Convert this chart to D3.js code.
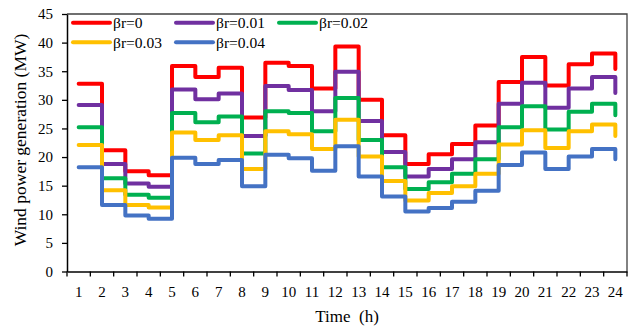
<!DOCTYPE html>
<html>
<head>
<meta charset="utf-8">
<script src="https://cdn.jsdelivr.net/npm/d3@7"></script>
<style>
  body { margin: 0; background: #fff; }
  svg text { font-family: "Liberation Serif", "Times New Roman", serif; fill: #000; }
</style>
</head>
<body>
<svg id="chart" width="640" height="328"></svg>
<script>
// hours on the x axis
var hours = d3.range(1, 25);
var yTicks = [0, 5, 10, 15, 20, 25, 30, 35, 40, 45];

// wind power (MW) per hour
var br0    = [32.8, 21.2, 17.5, 16.8, 35.9, 34.0, 35.6, 26.9, 36.5, 35.9, 32.0, 39.3, 30.0, 23.8, 18.8, 20.5, 22.3, 25.5, 33.1, 37.5, 32.5, 36.2, 38.1, 35.4];
var br001  = [29.1, 18.8, 15.4, 14.8, 31.8, 30.1, 31.1, 23.7, 32.4, 31.7, 28.0, 34.9, 26.3, 20.9, 16.6, 17.9, 19.6, 22.6, 29.3, 33.0, 28.6, 32.0, 34.0, 31.2];
var br002  = [25.2, 16.3, 13.4, 12.9, 27.7, 26.1, 27.1, 20.6, 28.0, 27.7, 24.5, 30.3, 23.0, 18.2, 14.4, 15.6, 17.1, 19.6, 25.2, 28.9, 24.8, 27.9, 29.3, 27.3];
var br003  = [22.1, 14.2, 11.6, 11.2, 24.3, 23.0, 23.8, 17.9, 24.5, 24.0, 21.4, 26.5, 20.1, 15.8, 12.4, 13.7, 14.9, 17.1, 22.2, 24.7, 21.6, 24.5, 25.7, 23.7];
var br004  = [18.2, 11.6, 9.8, 9.2, 19.9, 18.8, 19.5, 14.9, 20.4, 19.8, 17.6, 21.9, 16.6, 13.1, 10.5, 11.1, 12.2, 14.1, 18.6, 20.8, 17.9, 20.1, 21.4, 19.6];

var seriesNames = ["\u03b2r=0", "\u03b2r=0.01", "\u03b2r=0.02", "\u03b2r=0.03", "\u03b2r=0.04"];
var seriesValues = [br0, br001, br002, br003, br004];
var colors = ["#ff0000", "#7030a0", "#00b050", "#ffc000", "#4472c4"];

var margin = {top: 14, right: 13, bottom: 56.5, left: 67},
    W = 640, H = 328;

var svg = d3.select("#chart");

var x = d3.scaleBand()
    .domain(hours)
    .range([margin.left, W - margin.right])
    .padding(0);

var y = d3.scaleLinear()
    .domain([0, 45])
    .range([H - margin.bottom, margin.top]);

var bw = x.bandwidth();

// frame top + right
svg.append("path")
    .attr("d", "M" + margin.left + "," + margin.top + "H" + (W - margin.right) + "V" + (H - margin.bottom))
    .attr("fill", "none")
    .attr("stroke", "#404040")
    .attr("stroke-width", 1.3);

// lines
var line = d3.line()
    .x(function(d, i) { return x(hours[i]) + bw / 2; })
    .y(function(d) { return y(d); })
    .curve(d3.curveStepAfter);

svg.append("g").selectAll("path")
    .data(seriesValues)
    .enter()
    .append("path")
    .attr("d", line)
    .attr("fill", "none")
    .attr("stroke", function(d, i) { return colors[i]; })
    .attr("stroke-width", 4)
    .attr("stroke-linejoin", "round")
    .attr("stroke-linecap", "round");

// y axis
var yAxis = svg.append("g")
    .attr("transform", "translate(" + margin.left + ",0)")
    .call(d3.axisLeft(y).tickValues(yTicks).tickSize(5).tickSizeOuter(0).tickPadding(9));
yAxis.select(".domain").attr("stroke", "#000").attr("stroke-width", 1.5);
yAxis.selectAll(".tick line").attr("stroke", "#000").attr("stroke-width", 1.3);
yAxis.selectAll("text").style("font-size", "15px").style("font-family", "Liberation Serif");

// x axis labels
var xAxis = svg.append("g")
    .attr("transform", "translate(0," + (H - margin.bottom) + ")")
    .call(d3.axisBottom(x).tickSize(0).tickSizeOuter(0).tickPadding(15));
xAxis.select(".domain").attr("stroke", "#000").attr("stroke-width", 1.5);
xAxis.selectAll("text").style("font-size", "15px").style("font-family", "Liberation Serif");

// x ticks sit on the band edges
var edges = hours.map(function(h) { return x(h); }).concat([x(24) + bw]);
svg.append("g").selectAll("line")
    .data(edges)
    .enter()
    .append("line")
    .attr("x1", function(d) { return d; })
    .attr("x2", function(d) { return d; })
    .attr("y1", H - margin.bottom)
    .attr("y2", H - margin.bottom + 5)
    .attr("stroke", "#000")
    .attr("stroke-width", 1.3);

// axis titles
svg.append("text")
    .attr("x", (margin.left + W - margin.right) / 2)
    .attr("y", 322)
    .attr("text-anchor", "middle")
    .style("font-size", "17px")
    .text("Time\u00a0 (h)");

svg.append("text")
    .attr("transform", "translate(26," + 140 + ") rotate(-90)")
    .attr("text-anchor", "middle")
    .style("font-size", "17.5px")
    .text("Wind power generation (MW)");

// legend
var legPos = [[73, 22.7], [176, 22.7], [279, 22.7], [73, 42.3], [176, 42.3]];
var leg = svg.append("g").selectAll("g")
    .data(seriesNames)
    .enter()
    .append("g")
    .attr("transform", function(d, i) { return "translate(" + legPos[i][0] + "," + legPos[i][1] + ")"; });

leg.append("line")
    .attr("x1", 0).attr("x2", 37)
    .attr("stroke", function(d, i) { return colors[i]; })
    .attr("stroke-width", 4)
    .attr("stroke-linecap", "round");

leg.append("text")
    .attr("x", 40)
    .attr("dy", "0.35em")
    .style("font-size", "15.5px")
    .text(function(d) { return d; });
</script>
</body>
</html>
